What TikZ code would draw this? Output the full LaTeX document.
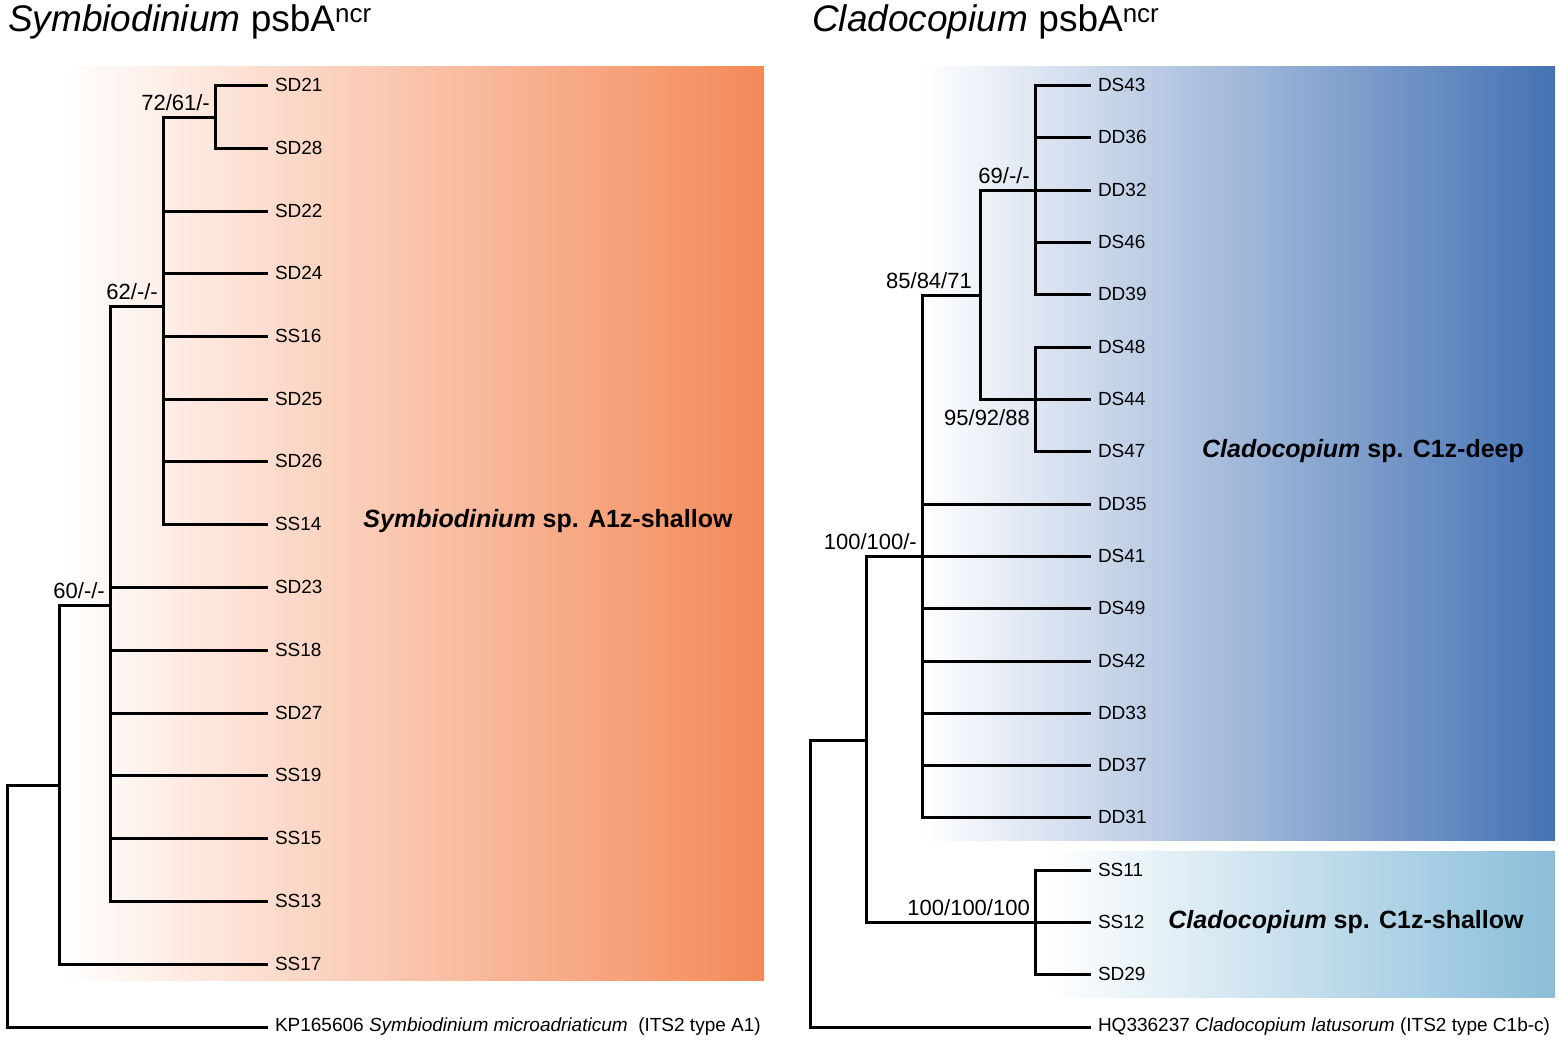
\documentclass[tikz,border=0pt]{standalone}
\usepackage{fontspec}
\setmainfont{Liberation Sans}
\usepackage{xcolor}
\usepackage{tikz}

\definecolor{cladeorange}{RGB}{244,137,88}
\definecolor{cladeblue}{RGB}{68,114,180}
\definecolor{cladesky}{RGB}{139,190,218}

\tikzset{
  leaf/.style={anchor=west, inner xsep=7pt, inner ysep=0pt, outer sep=0pt,
               font=\fontsize{19}{22}\selectfont},
  boot/.style={inner sep=2pt, font=\fontsize{22}{24}\selectfont},
  clade/.style={font=\fontsize{25}{28}\selectfont\bfseries},
  treetitle/.style={anchor=west, inner sep=0pt, font=\fontsize{37}{42}\selectfont},
  branch/.style={line width=3pt, line join=miter}
}

\begin{document}
\begin{tikzpicture}[x=1pt, y=-1pt]
                \useasboundingbox (0,0) rectangle (1559,1042);

                %% backgrounds
                \shade[left color=white, right color=cladeorange] (62,66) rectangle (764,980);
                \shade[left color=white, right color=cladeblue]   (922,66) rectangle (1555,840);
                \shade[left color=white, right color=cladesky]    (1045,851) rectangle (1555,997);

                %% titles
                \node[treetitle] (titleL) at (8,22)   {\textit{Symbiodinium} psbA\textsuperscript{ncr}};
                \node[treetitle] (titleR) at (812,22) {\textit{Cladocopium} psbA\textsuperscript{ncr}};

                %% Symbiodinium
                \foreach \name/\y in {SD21/85, SD28/148, SD22/211, SD24/273, SS16/336,
                                      SD25/399, SD26/461, SS14/524, SD23/587, SS18/650,
                                      SD27/713, SS19/775, SS15/838, SS13/901, SS17/964}
                  \node[leaf] (\name) at (268,\y) {\name};
                \node[leaf] (KP) at (268,1027)
                  {KP165606 \textit{Symbiodinium microadriaticum}\ \ (ITS2 type A1)};

                \coordinate (nA) at (215,117);
                \coordinate (nB) at (163,306);
                \coordinate (nC) at (110,605);
                \coordinate (nD) at (59,785);
                \coordinate (rootL) at (7,1027);

                \draw[branch] (SD21.west) -| (nA) |- (SD28.west);
                \draw[branch] (nA) -| (nB) |- (SS14.west);
                \foreach \l in {SD22,SD24,SS16,SD25,SD26}
                  \draw[branch] (\l.west) -- (\l.west -| nB);
                \draw[branch] (nB) -| (nC) |- (SS13.west);
                \foreach \l in {SD23,SS18,SD27,SS19,SS15}
                  \draw[branch] (\l.west) -- (\l.west -| nC);
                \draw[branch] (nC) -| (nD) |- (SS17.west);
                \draw[branch] (nD) -| (rootL) -- (KP.west);

                \node[boot, anchor=south east] (bA) at ([shift={(-3pt,4pt)}]nA) {72/61/-};
                \node[boot, anchor=south east] (bB) at ([shift={(-3pt,4pt)}]nB) {62/-/-};
                \node[boot, anchor=south east] (bC) at ([shift={(-3pt,4pt)}]nC) {60/-/-};

                \node[clade] (cladeA) at (548,521) {\textit{Symbiodinium} sp. A1z-shallow};

                %% Cladocopium
                \foreach \name/\y in {DS43/85, DD36/137, DD32/190, DS46/242, DD39/294,
                                      DS48/347, DS44/399, DS47/451, DD35/504, DS41/556,
                                      DS49/608, DS42/661, DD33/713, DD37/765, DD31/817,
                                      SS11/870, SS12/922, SD29/974}
                  \node[leaf] (\name) at (1091,\y) {\name};
                \node[leaf] (HQ) at (1091,1027)
                  {HQ336237 \textit{Cladocopium latusorum} (ITS2 type C1b-c)};

                \coordinate (nE) at (1035,190);
                \coordinate (nF) at (1035,399);
                \coordinate (nG) at (980,295);
                \coordinate (nH) at (922,556);
                \coordinate (nI) at (1035,922);
                \coordinate (nJ) at (866,740);
                \coordinate (rootR) at (810,1027);

                \draw[branch] (DS43.west) -| (nE) |- (DD39.west);
                \foreach \l in {DD36,DD32,DS46}
                  \draw[branch] (\l.west) -- (\l.west -| nE);
                \draw[branch] (DS48.west) -| (nF) |- (DS47.west);
                \draw[branch] (DS44.west) -- (nF);
                \draw[branch] (nE) -| (nG) |- (nF);
                \draw[branch] (nG) -| (nH) |- (DD31.west);
                \foreach \l in {DD35,DS41,DS49,DS42,DD33,DD37}
                  \draw[branch] (\l.west) -- (\l.west -| nH);
                \draw[branch] (SS11.west) -| (nI) |- (SD29.west);
                \draw[branch] (SS12.west) -- (nI);
                \draw[branch] (nH) -| (nJ) |- (nI);
                \draw[branch] (nJ) -| (rootR) -- (HQ.west);

                \node[boot, anchor=south east] (bE) at ([shift={(-3pt,4pt)}]nE) {69/-/-};
                \node[boot, anchor=north east] (bF) at ([shift={(-3pt,-8pt)}]nF) {95/92/88};
                \node[boot, anchor=south east] (bG) at ([shift={(-6pt,4pt)}]nG) {85/84/71};
                \node[boot, anchor=south east] (bH) at ([shift={(-3pt,4pt)}]nH) {100/100/-};
                \node[boot, anchor=south east] (bI) at ([shift={(-3pt,4pt)}]nI) {100/100/100};

                \node[clade] (cladeD) at (1363,451) {\textit{Cladocopium} sp. C1z-deep};
                \node[clade] (cladeS) at (1346,922) {\textit{Cladocopium} sp. C1z-shallow};

\end{tikzpicture}
\end{document}
